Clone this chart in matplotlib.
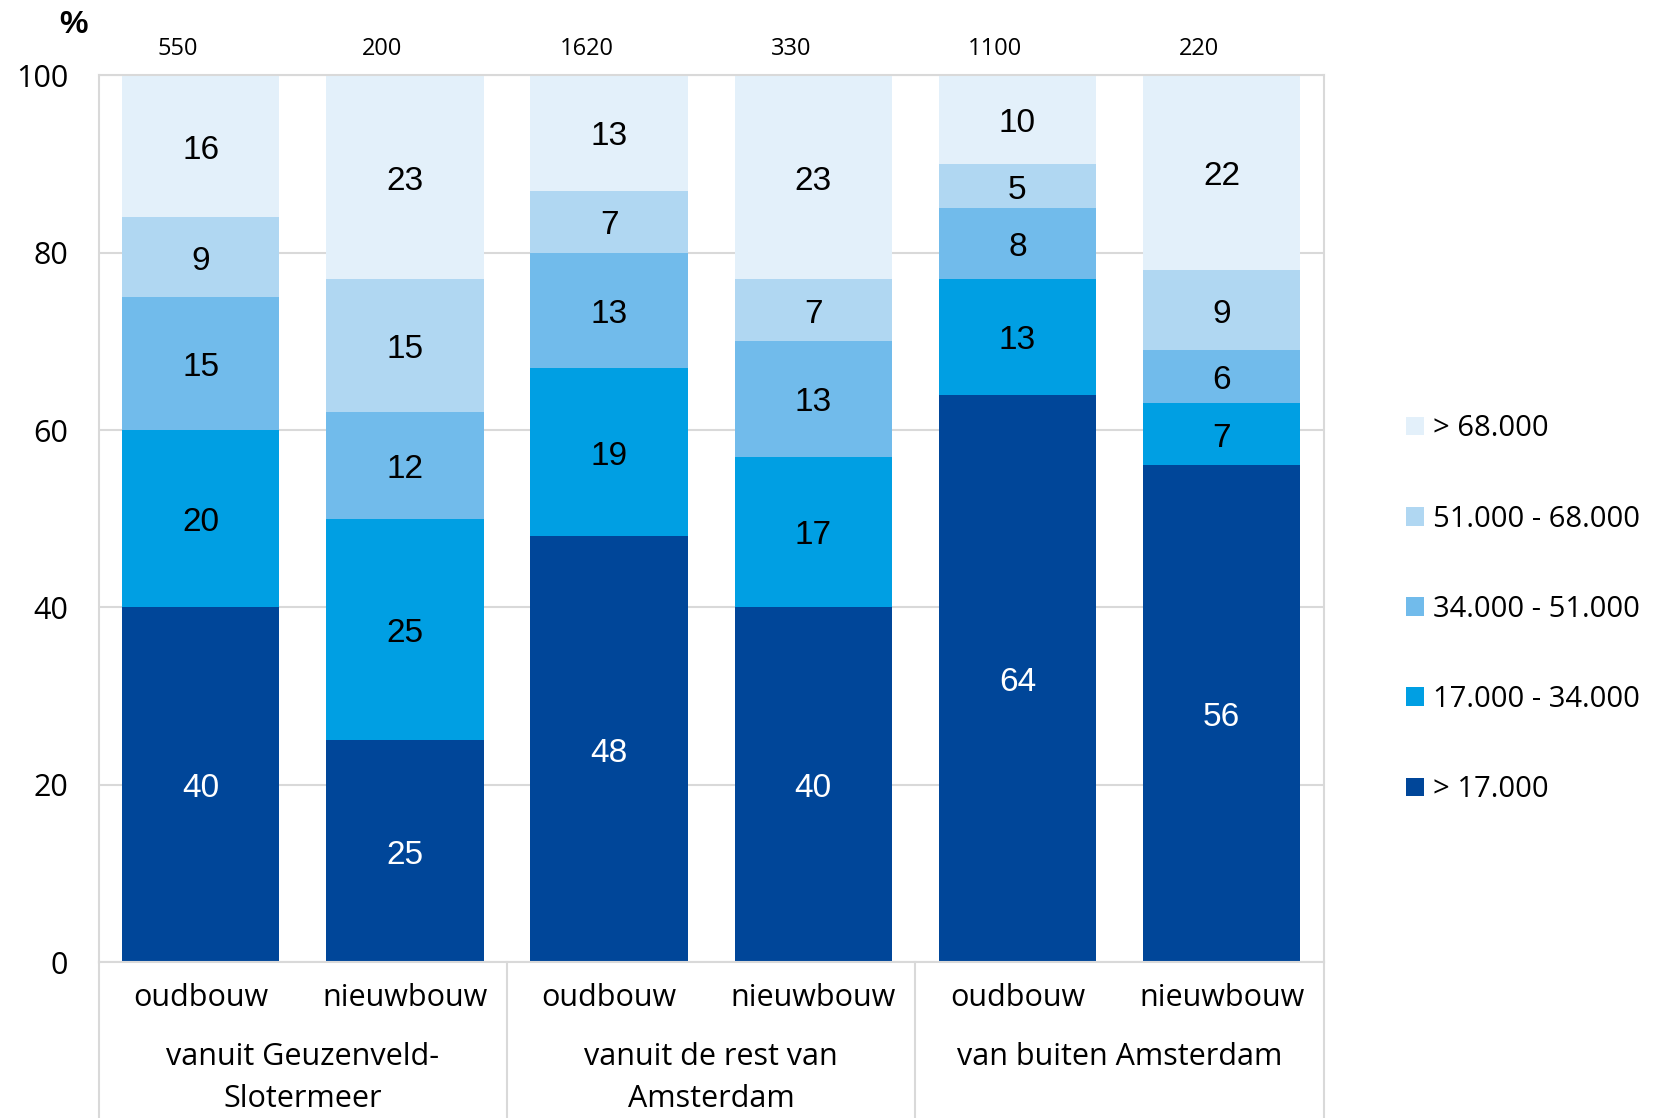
import numpy as np
import matplotlib.pyplot as plt
from matplotlib.patches import Patch

# data
sub_labels = ['oudbouw', 'nieuwbouw', 'oudbouw', 'nieuwbouw', 'oudbouw', 'nieuwbouw']
group_labels = ['vanuit Geuzenveld-\nSlotermeer', 'vanuit de rest van\nAmsterdam', 'van buiten Amsterdam']
counts = ['550', '200', '1620', '330', '1100', '220']

series_names = ['> 17.000', '17.000 - 34.000', '34.000 - 51.000', '51.000 - 68.000', '> 68.000']
lt17 = [40, 25, 48, 40, 64, 56]
s17_34 = [20, 25, 19, 17, 13, 7]
s34_51 = [15, 12, 13, 13, 8, 6]
s51_68 = [9, 15, 7, 7, 5, 9]
gt68 = [16, 23, 13, 23, 10, 22]

colors = ['#004699', '#009FE3', '#71BBEB', '#B0D7F2', '#E3F0FA']
txt_colors = ['white', 'black', 'black', 'black', 'black']

fnt = 'Open Sans'
vfnt = 'Liberation Sans'

fig = plt.figure(figsize=(16.63, 11.18), dpi=100)
ax = fig.add_axes([0.0593, 0.1395, 0.7367, 0.7931])

x = np.arange(len(sub_labels))
bottom = np.zeros(len(x))
for vals, c, tc, name in zip([lt17, s17_34, s34_51, s51_68, gt68], colors, txt_colors, series_names):
    vals = np.array(vals)
    ax.bar(x, vals, width=0.77, bottom=bottom, color=c, label=name, zorder=2)
    for xi, b, v in zip(x, bottom, vals):
        ax.text(xi, b + v / 2 - 0.45, str(v), ha='center', va='center', color=tc,
                fontsize=24, family=vfnt, zorder=3)
    bottom += vals

ax.set_xlim(-0.5, 5.5)
ax.set_ylim(0, 100)
ax.set_yticks([0, 20, 40, 60, 80, 100])
ax.tick_params(axis='y', length=0, pad=22, labelsize=22)
for lbl in ax.get_yticklabels():
    lbl.set_family(fnt)
ax.set_xticks([])
ax.grid(axis='y', color='#D9D9D9', linewidth=1.5, zorder=0)
for s in ['left', 'right', 'top', 'bottom']:
    ax.spines[s].set_color('#D9D9D9')
    ax.spines[s].set_linewidth(1.5)

# category labels below
tr = ax.get_xaxis_transform()
for xi, lab in zip(x, sub_labels):
    ax.text(xi, -0.041, lab, transform=tr, ha='center', va='center', fontsize=22, family=fnt)
for gi, lab in enumerate(group_labels):
    ax.text(2 * gi + 0.5, -0.09, lab, transform=tr, ha='center', va='top', fontsize=22,
            family=fnt, linespacing=1.55)
for xs in [-0.5, 1.5, 3.5, 5.5]:
    ax.plot([xs, xs], [0, -0.18], transform=tr, color='#D9D9D9', linewidth=1.5, clip_on=False)

# counts above bars
for xi, c in zip(x, counts):
    ax.text(xi - 0.11, 1.03, c, transform=tr, ha='center', va='center', fontsize=17, family=fnt)

fig.text(0.044, 0.978, '%', fontsize=23, fontweight='bold', family=vfnt, ha='center', va='center')

handles = [Patch(facecolor=c) for c in colors][::-1]
fig.legend(handles, series_names[::-1], loc='center left', bbox_to_anchor=(0.8455, 0.455),
           frameon=False, prop={'family': fnt, 'size': 21}, handlelength=0.62, handleheight=0.62,
           handletextpad=0.3, labelspacing=2.1, borderpad=0, borderaxespad=0)

fig.savefig('out.png', dpi=100)
